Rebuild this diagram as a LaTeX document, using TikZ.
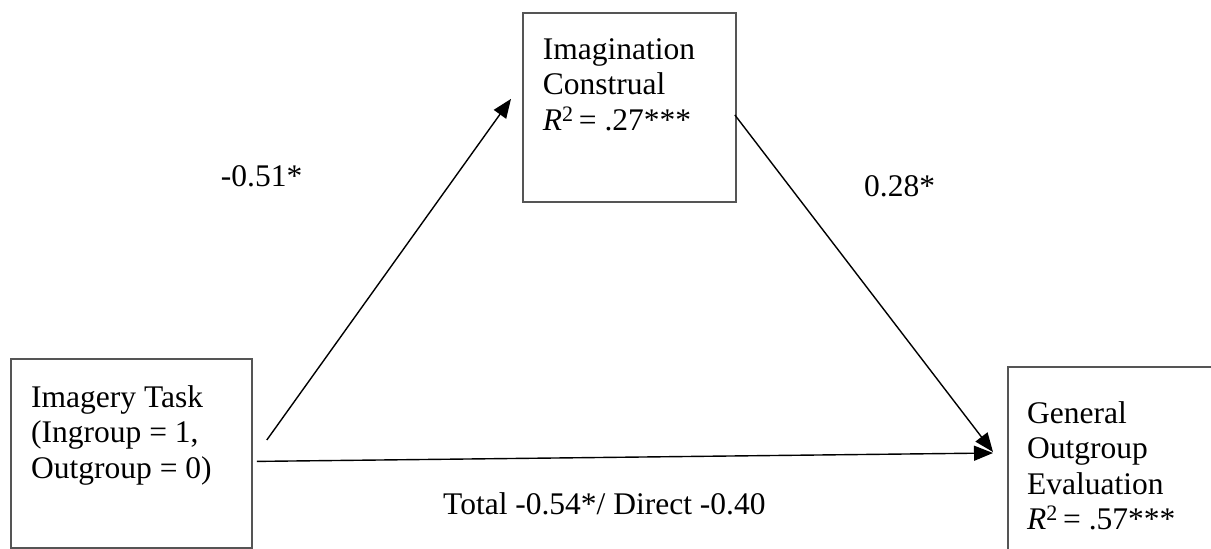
\documentclass[tikz,border=0pt]{standalone}
\usepackage{fontspec}
\setmainfont{Liberation Serif}
\usetikzlibrary{arrows.meta}
\definecolor{boxgray}{RGB}{85,85,85}

\begin{document}
\begin{tikzpicture}[x=1pt, y=-1pt,
  box/.style={draw=boxgray, line width=1.8pt, inner sep=0pt, anchor=north west},
  txt/.style={inner sep=0pt, align=left, anchor=north west, font=\fontsize{31.5}{35.5}\selectfont},
  lab/.style={inner sep=0pt, anchor=base west, font=\fontsize{31.5}{35.5}\selectfont},
  path/.style={draw=black, line width=1.4pt, -{Triangle[length=19pt,width=15pt]}}]
  \clip (0,0) rectangle (1211,549);
  \fill[white] (0,0) rectangle (1211,549);

  % boxes
  \node[box, minimum width=241pt, minimum height=189pt] (task) at (10,358) {};
  \node[box, minimum width=213pt, minimum height=189pt] (construal) at (522,12) {};
  \node[box, minimum width=260pt, minimum height=260pt] (evaluation) at (1007,366) {};

  \node[txt] (task-txt) at (31,385) {Imagery Task\\(Ingroup = 1,\\Outgroup = 0)};
  \node[txt] (construal-txt) at (542.7,38) {Imagination\\Construal\\\textit{R}\textsuperscript{2}\,= .27***};
  \node[txt] (evaluation-txt) at (1027,401) {General\\Outgroup\\Evaluation\\\textit{R}\textsuperscript{2}\,= .57***};

  % paths
  \draw[path] ([shift={(14,82)}]task.north east) -- ([shift={(-11,-8.5)}]construal.west);
  \draw[path] ([shift={(-2,7.5)}]construal.east) -- ([shift={(-14,86)}]evaluation.north west);
  \draw[path] ([shift={(4,8)}]task.east) -- ([shift={(-14,87)}]evaluation.north west);

  % coefficients
  \node[lab] (coef-a) at (220.7,186.7) {-0.51*};
  \node[lab] (coef-b) at (864,196.7) {0.28*};
  \node[lab] (coef-c) at (443,514) {Total -0.54*/ Direct -0.40};
\end{tikzpicture}
\end{document}
